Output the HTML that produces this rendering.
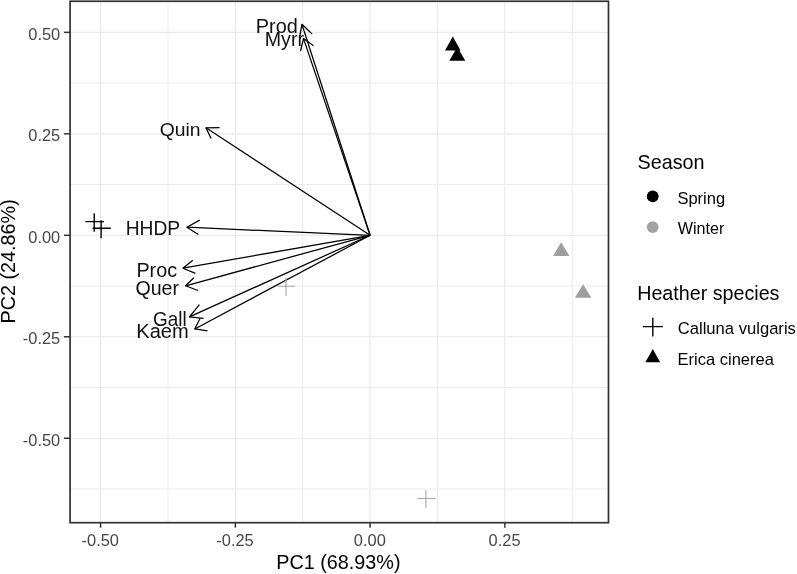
<!DOCTYPE html>
<html lang="en"><head><meta charset="utf-8"><title>PCA biplot</title>
<style>html,body{margin:0;padding:0;background:#fff;}body{width:797px;height:574px;overflow:hidden;}svg{display:block;will-change:transform;}text{font-family:"Liberation Sans",Arial,Helvetica,sans-serif;}</style>
</head><body>
<svg width="797" height="574" viewBox="0 0 797 574">
<rect width="797" height="574" fill="#ffffff"/>
<g stroke="#ececec" stroke-width="1.05" fill="none">
<line x1="167.98" y1="1.25" x2="167.98" y2="522.7"/>
<line x1="302.73" y1="1.25" x2="302.73" y2="522.7"/>
<line x1="437.48" y1="1.25" x2="437.48" y2="522.7"/>
<line x1="572.23" y1="1.25" x2="572.23" y2="522.7"/>
<line x1="70.1" y1="83.09" x2="608.5" y2="83.09"/>
<line x1="70.1" y1="184.56" x2="608.5" y2="184.56"/>
<line x1="70.1" y1="286.04" x2="608.5" y2="286.04"/>
<line x1="70.1" y1="387.51" x2="608.5" y2="387.51"/>
<line x1="70.1" y1="488.99" x2="608.5" y2="488.99"/>
</g>
<g stroke="#e9e9e9" stroke-width="1.15" fill="none">
<line x1="100.60" y1="1.25" x2="100.60" y2="522.7"/>
<line x1="235.35" y1="1.25" x2="235.35" y2="522.7"/>
<line x1="370.10" y1="1.25" x2="370.10" y2="522.7"/>
<line x1="504.85" y1="1.25" x2="504.85" y2="522.7"/>
<line x1="70.1" y1="32.35" x2="608.5" y2="32.35"/>
<line x1="70.1" y1="133.83" x2="608.5" y2="133.83"/>
<line x1="70.1" y1="235.30" x2="608.5" y2="235.30"/>
<line x1="70.1" y1="336.77" x2="608.5" y2="336.77"/>
<line x1="70.1" y1="438.25" x2="608.5" y2="438.25"/>
</g>
<g stroke="#000" stroke-width="1.25" fill="none" stroke-linecap="butt" stroke-linejoin="round">
<line x1="370.1" y1="235.3" x2="301.92" y2="24.28"/>
<polyline points="299.5,37.6 301.92,24.28 312.1,34.0"/>
<line x1="370.1" y1="235.3" x2="303.53" y2="38.58"/>
<polyline points="300.5,51.0 303.53,38.58 313.5,45.8"/>
<line x1="370.1" y1="235.3" x2="205.93" y2="127.82"/>
<polyline points="219.6,127.6 205.93,127.82 211.1,138.6"/>
<line x1="370.1" y1="235.3" x2="186.9" y2="227.22"/>
<polyline points="199.7,220.1 186.9,227.22 198.4,234.5"/>
<line x1="370.1" y1="235.3" x2="182.99" y2="268.23"/>
<polyline points="192.8,260.3 182.99,268.23 195.4,273.3"/>
<line x1="370.1" y1="235.3" x2="185.59" y2="285.79"/>
<polyline points="193.9,277.7 185.59,285.79 197.9,290.5"/>
<line x1="370.1" y1="235.3" x2="189.41" y2="316.84"/>
<polyline points="199.4,304.6 189.41,316.84 203.6,318.3"/>
<line x1="370.1" y1="235.3" x2="194.75" y2="328.96"/>
<polyline points="200.0,318.5 194.75,328.96 207.5,330.9"/>
</g>
<path d="M85.5 221.6H104.0M94.2 213.2V231.7" stroke="#000" stroke-width="1.4" fill="none"/>
<path d="M92.6 228.2H110.8M101.1 220.3V238.3" stroke="#000" stroke-width="1.4" fill="none"/>
<path d="M277.9 286.2H294.8M286.0 277.9V295.9" stroke="#a8a8a8" stroke-width="1.15" fill="none"/>
<path d="M417.2 498.5H435.8M425.9 490.2V508.3" stroke="#a8a8a8" stroke-width="1.15" fill="none"/>
<polygon points="452.8,36.6 445.0,50.4 460.6,50.4" fill="#000"/>
<polygon points="457.3,47.0 449.3,60.8 465.3,60.8" fill="#000"/>
<polygon points="561.2,242.3 553.0,255.9 569.4,255.9" fill="#9e9e9e"/>
<polygon points="583.1,284.2 574.9,297.8 591.3,297.8" fill="#9e9e9e"/>
<g font-size="19.6px" fill="#111">
<text transform="translate(255.8,32.8) scale(1.013,0.99)">Prod</text>
<text transform="translate(264.8,46.3) scale(1.0,1.0)">Myrr</text>
<text transform="translate(159.7,135.7) scale(0.987,0.975)">Quin</text>
<text transform="translate(125.7,235.2) scale(0.981,1.0)">HHDP</text>
<text transform="translate(136.4,276.8) scale(1.009,1.0)">Proc</text>
<text transform="translate(135.4,294.6) scale(1.0,1.0)">Quer</text>
<text transform="translate(153.0,325.6) scale(0.965,1.02)">Gall</text>
<text transform="translate(136.3,338.4) scale(1.024,1.0)">Kaem</text>
</g>
<rect x="70.1" y="1.25" width="538.40" height="521.45" fill="none" stroke="#333333" stroke-width="1.7"/>
<g stroke="#333333" stroke-width="1.5" fill="none">
<line x1="63.90" y1="32.35" x2="70.1" y2="32.35"/>
<line x1="63.90" y1="133.83" x2="70.1" y2="133.83"/>
<line x1="63.90" y1="235.30" x2="70.1" y2="235.30"/>
<line x1="63.90" y1="336.77" x2="70.1" y2="336.77"/>
<line x1="63.90" y1="438.25" x2="70.1" y2="438.25"/>
<line x1="100.60" y1="522.7" x2="100.60" y2="527.70"/>
<line x1="235.35" y1="522.7" x2="235.35" y2="527.70"/>
<line x1="370.10" y1="522.7" x2="370.10" y2="527.70"/>
<line x1="504.85" y1="522.7" x2="504.85" y2="527.70"/>
</g>
<g font-size="16.4px" fill="#464646">
<text x="60.2" y="39.65" text-anchor="end">0.50</text>
<text x="60.2" y="141.13" text-anchor="end">0.25</text>
<text x="60.2" y="242.60" text-anchor="end">0.00</text>
<text x="60.2" y="344.07" text-anchor="end">-0.25</text>
<text x="60.2" y="445.55" text-anchor="end">-0.50</text>
<text x="100.30" y="546.2" text-anchor="middle">-0.50</text>
<text x="235.05" y="546.2" text-anchor="middle">-0.25</text>
<text x="369.80" y="546.2" text-anchor="middle">0.00</text>
<text x="504.55" y="546.2" text-anchor="middle">0.25</text>
</g>
<text x="338.4" y="569" font-size="19.8px" text-anchor="middle" fill="#000">PC1 (68.93%)</text>
<text transform="translate(15.3,261.4) rotate(-90)" font-size="19.8px" text-anchor="middle" fill="#000">PC2 (24.86%)</text>
<g fill="#000">
<text x="637.5" y="168.9" font-size="19.8px">Season</text>
<circle cx="652.7" cy="196.3" r="5.9" fill="#000"/>
<circle cx="652.7" cy="227.1" r="5.9" fill="#a3a3a3"/>
<text x="677.4" y="203.5" font-size="16.5px">Spring</text>
<text transform="translate(677.7,234.3) scale(0.985,1)" font-size="16.4px">Winter</text>
<text x="637.2" y="299.5" font-size="19.7px">Heather species</text>
<path d="M642.8 326.6H662.9M652.8 317.8V336.4" stroke="#000" stroke-width="1.4" fill="none"/>
<polygon points="652.8,348.9 645.4,362.2 660.2,362.2" fill="#000"/>
<text transform="translate(677.7,333.9) scale(1.008,1)" font-size="16.5px">Calluna vulgaris</text>
<text x="677.6" y="364.5" font-size="16.5px">Erica cinerea</text>
</g>
</svg></body></html>
